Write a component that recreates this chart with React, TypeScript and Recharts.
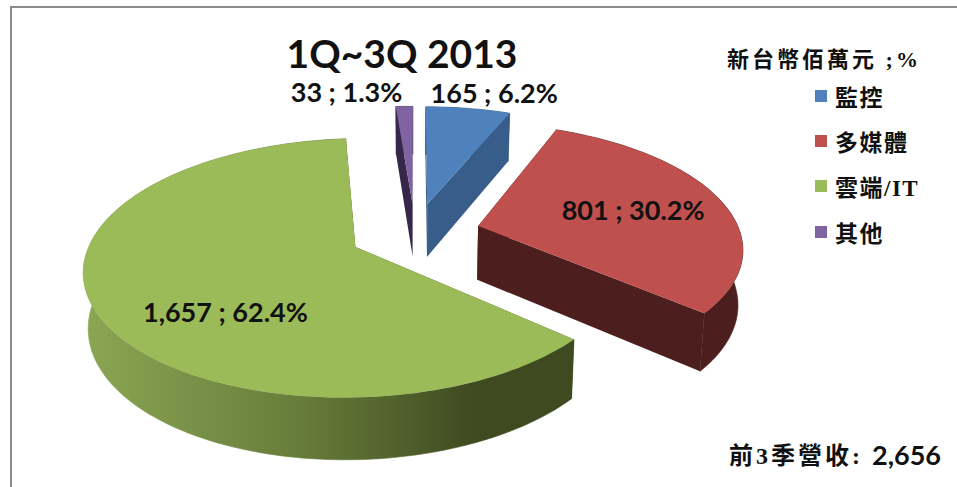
import { PieChart, Pie, Cell, Legend } from "recharts";

const names = ["監控", "多媒體", "雲端/IT", "其他"];
const revenue = [165, 801, 1657, 33];
const shareLabels = ["6.2%", "30.2%", "62.4%", "1.3%"];

const topColors = ["#4F81BD", "#C0504D", "#9BBB59", "#8064A2"];
const faceColors = ["#385D8A", "#4C1F1E", "#3F4A20", "#35274A"];
const wallColors = ["#385D8A", "#4C1F1E", "url(#wallGreen)", "#35274A"];

// label centre, measured from the slice's apex
const labelOffsets = [
  [67, -108],
  [155, -13],
  [-130, 68],
  [-66, -109],
];

const chartData = names.map((name, i) => ({ name, value: revenue[i] }));

const EXPLODE = 0.25;
const SQUASH = 0.464;
const PERSPECTIVE = 0.16;
const DEPTH = 54;
const SERIF = "'Liberation Serif', 'Noto Sans CJK TC', serif";

// plane position (radius = 1) to screen
function project(cx: number, cy: number, rx: number, u: number, v: number) {
  const s = 1 / (1 + PERSPECTIVE * v);
  return [cx + u * rx * s, cy - v * rx * SQUASH * s];
}

function slicePoints(props: any) {
  const { cx, cy, outerRadius, startAngle, endAngle } = props;
  const a0 = ((90 - startAngle) * Math.PI) / 180;
  const a1 = ((90 - endAngle) * Math.PI) / 180;
  const mid = (a0 + a1) / 2;
  const ou = EXPLODE * Math.sin(mid);
  const ov = EXPLODE * Math.cos(mid);
  const arc: number[][] = [];
  const steps = Math.max(4, Math.ceil(Math.abs(a1 - a0) / 0.03));
  for (let i = 0; i <= steps; i++) {
    const a = a0 + ((a1 - a0) * i) / steps;
    arc.push(project(cx, cy, outerRadius, ou + Math.sin(a), ov + Math.cos(a)));
  }
  return { apex: project(cx, cy, outerRadius, ou, ov), arc };
}

const toPath = (pts: number[][]) =>
  "M" + pts.map((p) => `${p[0].toFixed(1)},${p[1].toFixed(1)}`).join("L") + "Z";

function Slice3D(props: any) {
  const i = names.indexOf(props.name ?? props.payload?.name);
  const { apex, arc } = slicePoints(props);
  const first = arc[0];
  const last = arc[arc.length - 1];
  // the base is a little smaller than the top, and the side is taller in front
  const down = (pts: number[][]) =>
    pts.map((p) => [props.cx + (p[0] - props.cx) * 0.985, p[1] + DEPTH + (p[1] - props.cy) * 0.05]);
  return (
    <g>
      <path d={toPath([apex, first, ...down([first, apex])])} fill={faceColors[i]} />
      <path d={toPath([apex, last, ...down([last, apex])])} fill={faceColors[i]} />
      <path d={toPath([...arc, ...down(arc).reverse()])} fill={wallColors[i]} stroke={wallColors[i]} strokeWidth={0.6} />
      <path d={toPath([apex, ...arc])} fill={topColors[i]} />
    </g>
  );
}

function SliceLabel(props: any) {
  const i = props.index;
  const { apex } = slicePoints(props);
  return (
    <text
      x={apex[0] + labelOffsets[i][0]}
      y={apex[1] + labelOffsets[i][1]}
      textAnchor="middle"
      dominantBaseline="middle"
      fontFamily="Lato, sans-serif"
      fontWeight={700}
      fontSize={27}
      fill="#111"
    >
      {`${revenue[i].toLocaleString()} ; ${shareLabels[i]}`}
    </text>
  );
}

function LegendList() {
  return (
    <div>
      {names.map((name, i) => (
        <div key={name} style={{ display: "flex", alignItems: "center", height: 45.3 }}>
          <span style={{ width: 12, height: 12, background: topColors[i], marginRight: 8 }} />
          <span style={{ fontFamily: SERIF, fontWeight: 700, fontSize: 23, letterSpacing: 1.5, color: "#111" }}>{name}</span>
        </div>
      ))}
    </div>
  );
}

export default function App() {
  return (
    <div style={{ position: "absolute", left: 0, top: 0, width: 957, height: 487, background: "#fff" }}>
      <div
        style={{
          position: "absolute",
          left: 10,
          top: 6,
          right: 0,
          bottom: 0,
          borderTop: "2px solid #8c8c8c",
          borderLeft: "2px solid #8c8c8c",
        }}
      />
      <PieChart width={957} height={487} style={{ position: "absolute", left: 0, top: 0 }}>
        <defs>
          <linearGradient id="wallGreen" x1="0" x2="1" y1="0" y2="0">
            <stop offset="0" stopColor="#8BA653" />
            <stop offset="0.45" stopColor="#667C3A" />
            <stop offset="0.8" stopColor="#3F4A20" />
            <stop offset="1" stopColor="#3F4A20" />
          </linearGradient>
        </defs>
        <Pie
          data={chartData}
          dataKey="value"
          nameKey="name"
          cx={410}
          cy={228}
          innerRadius={0}
          outerRadius={262}
          startAngle={90}
          endAngle={-270}
          stroke="none"
          isAnimationActive={false}
          shape={Slice3D}
          label={SliceLabel}
          labelLine={false}
        >
          {chartData.map((d, i) => (
            <Cell key={d.name} fill={topColors[i]} />
          ))}
        </Pie>
        <Legend
          layout="vertical"
          align="right"
          verticalAlign="top"
          content={<LegendList />}
          wrapperStyle={{ left: 815, top: 73, width: 140 }}
        />
        <text x={402} y={58} textAnchor="middle" dominantBaseline="middle" fontFamily="Lato, sans-serif" fontWeight={700} fontSize={39} fill="#111">
          1Q~3Q 2013
        </text>
        <text x={824} y={62} textAnchor="middle" dominantBaseline="middle" fontFamily={SERIF} fontWeight={700} fontSize={22} letterSpacing={3} fill="#111">
          新台幣佰萬元 ;%
        </text>
        <text x={835} y={458} textAnchor="middle" dominantBaseline="middle" fontFamily={SERIF} fontWeight={700} fontSize={24} letterSpacing={3} fill="#111">
          前3季營收: <tspan fontFamily="Lato, sans-serif" fontSize={27} letterSpacing={0}>2,656</tspan>
        </text>
      </PieChart>
    </div>
  );
}
